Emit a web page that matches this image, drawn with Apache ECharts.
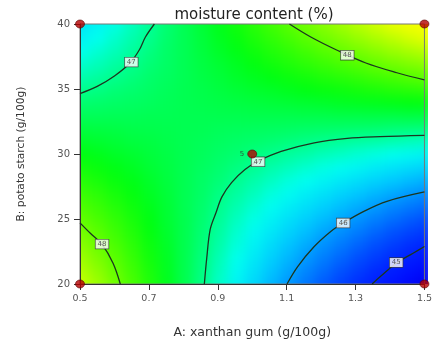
<!DOCTYPE html>
<html>
<head>
<meta charset="utf-8">
<script src="https://cdn.jsdelivr.net/npm/echarts@6.0.0/dist/echarts.min.js"></script>
<style>
  html, body { margin: 0; padding: 0; background: #fff; }
  #wrap { position: relative; width: 435px; height: 347px; }
  #fieldClip { position: absolute; left: 80px; top: 24px; width: 348px; height: 260px; overflow: hidden; }
  #field { position: absolute; left: -80px; top: -24px; width: 435px; height: 347px; filter: blur(6px); }
  #chart { position: absolute; left: 0; top: 0; width: 435px; height: 347px; }
</style>
</head>
<body>
<div id="wrap">
  <div id="fieldClip"><div id="field"></div></div>
  <div id="chart"></div>
</div>
<script>
// A: xanthan gum (g/100g), columns of the surface
var xanthan = [0.5, 0.55, 0.6, 0.65, 0.7, 0.75, 0.8, 0.85, 0.9, 0.95, 1.0,
  1.05, 1.1, 1.15, 1.2, 1.25, 1.3, 1.35, 1.4, 1.45, 1.5];
// B: potato starch (g/100g), rows of the surface
var starch = [20, 21, 22, 23, 24, 25, 26, 27, 28, 29, 30,
  31, 32, 33, 34, 35, 36, 37, 38, 39, 40];
var moisture = [
  [48.50, 48.29, 48.08, 47.87, 47.66, 47.45, 47.24, 47.03, 46.82, 46.61, 46.40, 46.19, 45.98, 45.77, 45.56, 45.35, 45.14, 44.93, 44.72, 44.51, 44.30],
  [48.40, 48.21, 48.01, 47.82, 47.63, 47.43, 47.24, 47.05, 46.85, 46.66, 46.47, 46.27, 46.08, 45.88, 45.69, 45.50, 45.30, 45.11, 44.92, 44.72, 44.53],
  [48.30, 48.12, 47.95, 47.77, 47.59, 47.42, 47.24, 47.06, 46.88, 46.71, 46.53, 46.35, 46.18, 46.00, 45.82, 45.65, 45.47, 45.29, 45.11, 44.94, 44.76],
  [48.20, 48.04, 47.88, 47.72, 47.56, 47.40, 47.24, 47.08, 46.92, 46.76, 46.60, 46.43, 46.27, 46.11, 45.95, 45.79, 45.63, 45.47, 45.31, 45.15, 44.99],
  [48.10, 47.96, 47.81, 47.67, 47.52, 47.38, 47.24, 47.09, 46.95, 46.80, 46.66, 46.52, 46.37, 46.23, 46.08, 45.94, 45.80, 45.65, 45.51, 45.36, 45.22],
  [48.00, 47.87, 47.75, 47.62, 47.49, 47.36, 47.24, 47.11, 46.98, 46.85, 46.73, 46.60, 46.47, 46.34, 46.22, 46.09, 45.96, 45.83, 45.71, 45.58, 45.45],
  [47.90, 47.79, 47.68, 47.57, 47.46, 47.35, 47.23, 47.12, 47.01, 46.90, 46.79, 46.68, 46.57, 46.46, 46.35, 46.24, 46.12, 46.01, 45.90, 45.79, 45.68],
  [47.80, 47.71, 47.61, 47.52, 47.42, 47.33, 47.23, 47.14, 47.04, 46.95, 46.86, 46.76, 46.67, 46.57, 46.48, 46.38, 46.29, 46.19, 46.10, 46.00, 45.91],
  [47.70, 47.62, 47.54, 47.47, 47.39, 47.31, 47.23, 47.15, 47.08, 47.00, 46.92, 46.84, 46.76, 46.69, 46.61, 46.53, 46.45, 46.37, 46.30, 46.22, 46.14],
  [47.60, 47.54, 47.48, 47.42, 47.35, 47.29, 47.23, 47.17, 47.11, 47.05, 46.99, 46.92, 46.86, 46.80, 46.74, 46.68, 46.62, 46.55, 46.49, 46.43, 46.37],
  [47.50, 47.46, 47.41, 47.37, 47.32, 47.28, 47.23, 47.19, 47.14, 47.10, 47.05, 47.01, 46.96, 46.92, 46.87, 46.83, 46.78, 46.74, 46.69, 46.65, 46.60],
  [47.40, 47.37, 47.34, 47.31, 47.29, 47.26, 47.23, 47.20, 47.17, 47.14, 47.12, 47.09, 47.06, 47.03, 47.00, 46.97, 46.94, 46.92, 46.89, 46.86, 46.83],
  [47.30, 47.29, 47.28, 47.26, 47.25, 47.24, 47.23, 47.22, 47.20, 47.19, 47.18, 47.17, 47.16, 47.14, 47.13, 47.12, 47.11, 47.10, 47.08, 47.07, 47.06],
  [47.20, 47.20, 47.21, 47.21, 47.22, 47.22, 47.23, 47.23, 47.24, 47.24, 47.25, 47.25, 47.25, 47.26, 47.26, 47.27, 47.27, 47.28, 47.28, 47.29, 47.29],
  [47.10, 47.12, 47.14, 47.16, 47.18, 47.21, 47.23, 47.25, 47.27, 47.29, 47.31, 47.33, 47.35, 47.37, 47.39, 47.42, 47.44, 47.46, 47.48, 47.50, 47.52],
  [47.00, 47.04, 47.08, 47.11, 47.15, 47.19, 47.23, 47.26, 47.30, 47.34, 47.38, 47.41, 47.45, 47.49, 47.53, 47.56, 47.60, 47.64, 47.68, 47.71, 47.75],
  [46.90, 46.95, 47.01, 47.06, 47.12, 47.17, 47.22, 47.28, 47.33, 47.39, 47.44, 47.49, 47.55, 47.60, 47.66, 47.71, 47.76, 47.82, 47.87, 47.93, 47.98],
  [46.80, 46.87, 46.94, 47.01, 47.08, 47.15, 47.22, 47.29, 47.36, 47.43, 47.51, 47.58, 47.65, 47.72, 47.79, 47.86, 47.93, 48.00, 48.07, 48.14, 48.21],
  [46.70, 46.79, 46.87, 46.96, 47.05, 47.14, 47.22, 47.31, 47.40, 47.48, 47.57, 47.66, 47.74, 47.83, 47.92, 48.01, 48.09, 48.18, 48.27, 48.35, 48.44],
  [46.60, 46.70, 46.81, 46.91, 47.01, 47.12, 47.22, 47.32, 47.43, 47.53, 47.64, 47.74, 47.84, 47.95, 48.05, 48.15, 48.26, 48.36, 48.46, 48.57, 48.67],
  [46.50, 46.62, 46.74, 46.86, 46.98, 47.10, 47.22, 47.34, 47.46, 47.58, 47.70, 47.82, 47.94, 48.06, 48.18, 48.30, 48.42, 48.54, 48.66, 48.78, 48.90]
];

// contour lines, [A, B] points
var contour47Top = [[0.716, 40], [0.69, 39], [0.672, 38], [0.645, 37], [0.60, 36], [0.55, 35.2], [0.5, 34.65]];
var contour48Top = [[1.108, 40], [1.17, 39], [1.245, 38], [1.33, 37], [1.42, 36.25], [1.5, 35.7]];
var contour47Mid = [[0.861, 20], [0.868, 22], [0.878, 24.2], [0.895, 25.5], [0.912, 26.7], [0.94, 27.8],
  [0.979, 28.8], [1.017, 29.45], [1.084, 30.2], [1.18, 30.86], [1.276, 31.2], [1.371, 31.33], [1.5, 31.43]];
var contour48Low = [[0.5, 24.7], [0.53, 23.9], [0.564, 23.05], [0.596, 21.6], [0.617, 20]];
var contour46 = [[1.101, 20], [1.132, 21.34], [1.18, 22.88], [1.228, 24.04], [1.264, 24.69],
  [1.324, 25.59], [1.391, 26.36], [1.5, 27.08]];
var contour45 = [[1.348, 20], [1.372, 20.57], [1.418, 21.6], [1.467, 22.37], [1.5, 22.88]];

// contour label boxes [A, B, text]
var contourLabels = [[0.649, 37.07, '47'], [1.276, 37.6, '48'], [1.017, 29.4, '47'],
  [0.564, 23.07, '48'], [1.264, 24.69, '46'], [1.418, 21.65, '45']];

// design points [A, B, replicates]
var designPoints = [[0.5, 20, 1], [0.5, 40, 1], [1.5, 20, 1], [1.5, 40, 1], [1.0, 30, 5]];

var xTicks = [0.5, 0.7, 0.9, 1.1, 1.3, 1.5];
var yTicks = [20, 25, 30, 35, 40];

var cells = [];
for (var j = 0; j < starch.length; j++) {
  for (var i = 0; i < xanthan.length; i++) {
    cells.push([xanthan[i], starch[j], moisture[j][i]]);
  }
}

var font = 'DejaVu Sans';
var gridBox = { left: 80, right: 7, top: 24, bottom: 63 };

// colour field, drawn on its own layer and softened by the css blur
function renderCell(params, api) {
  var a = api.value(0), b = api.value(1);
  var p0 = api.coord([a - 0.025, b + 0.5]);
  var p1 = api.coord([a + 0.025, b - 0.5]);
  var x0 = p0[0], y0 = p0[1], x1 = p1[0] + 0.8, y1 = p1[1] + 0.8;
  // stretch the border cells so the blur has no white edge
  if (a === xanthan[0]) x0 -= 30;
  if (a === xanthan[xanthan.length - 1]) x1 += 30;
  if (b === starch[0]) y1 += 30;
  if (b === starch[starch.length - 1]) y0 -= 30;
  return { type: 'rect', shape: { x: x0, y: y0, width: x1 - x0, height: y1 - y0 }, style: { fill: api.visual('color') } };
}

var field = echarts.init(document.getElementById('field'));
field.setOption({
  animation: false,
  grid: gridBox,
  xAxis: { type: 'value', min: 0.5, max: 1.5, show: false },
  yAxis: { type: 'value', min: 20, max: 40, show: false },
  visualMap: {
    show: false,
    dimension: 2,
    min: 44.3,
    max: 49.1,
    inRange: {
      color: ['#0000f0', '#0010ff', '#0028ff', '#0050ff', '#0088ff', '#00c8ff', '#00fff0',
        '#00ff70', '#00ff10', '#50ff00', '#a0ff00', '#f0ff00', '#ffff00']
    }
  },
  series: [{
    type: 'custom',
    renderItem: renderCell,
    data: cells,
    clip: false,
    silent: true
  }]
});

function contourSeries(points) {
  return {
    type: 'line',
    data: points,
    smooth: 0.35,
    showSymbol: false,
    silent: true,
    z: 3,
    lineStyle: { color: '#1c361f', width: 1.3 }
  };
}

var chart = echarts.init(document.getElementById('chart'));
chart.setOption({
  animation: false,
  textStyle: { fontFamily: font },
  grid: Object.assign({ show: true, borderColor: '#777', borderWidth: 1 }, gridBox),
  graphic: [{
    type: 'text',
    x: 254, y: 15,
    style: { text: 'moisture content (%)', font: '15px "DejaVu Sans"', fill: '#222', align: 'center', verticalAlign: 'middle' }
  }],
  xAxis: {
    type: 'value',
    min: 0.5,
    max: 1.5,
    name: 'A: xanthan gum (g/100g)',
    nameLocation: 'middle',
    nameGap: 42,
    nameTextStyle: { fontSize: 12.5, color: '#333' },
    axisLine: { show: true, lineStyle: { color: '#333' } },
    axisTick: { show: true, customValues: xTicks, length: 6, lineStyle: { color: '#333' } },
    axisLabel: { customValues: xTicks, color: '#555', fontSize: 9.5, margin: 10, formatter: function (v) { return v.toFixed(1); } },
    splitLine: { show: false }
  },
  yAxis: {
    type: 'value',
    min: 20,
    max: 40,
    name: 'B: potato starch (g/100g)',
    nameLocation: 'middle',
    nameGap: 53,
    nameTextStyle: { fontSize: 10.7, color: '#333' },
    axisLine: { show: true, lineStyle: { color: '#333' } },
    axisTick: { show: true, customValues: yTicks, length: 6, lineStyle: { color: '#333' } },
    axisLabel: { customValues: yTicks, color: '#555', fontSize: 10, margin: 10 },
    splitLine: { show: false }
  },
  series: [
    contourSeries(contour47Top),
    contourSeries(contour48Top),
    contourSeries(contour47Mid),
    contourSeries(contour48Low),
    contourSeries(contour46),
    contourSeries(contour45),
    {
      type: 'scatter',
      data: contourLabels,
      symbolSize: 1,
      itemStyle: { color: 'rgba(0,0,0,0)' },
      silent: true,
      z: 5,
      label: {
        show: true,
        position: 'inside',
        formatter: function (p) { return p.value[2]; },
        fontSize: 7,
        color: '#333',
        backgroundColor: '#fff',
        borderColor: '#333',
        borderWidth: 0.7,
        padding: [1, 2, 0, 2],
        lineHeight: 8
      }
    },
    {
      type: 'scatter',
      data: designPoints,
      symbol: 'circle',
      symbolSize: [9, 8],
      silent: true,
      z: 8,
      clip: false,
      itemStyle: { color: '#b40000', borderColor: '#5a0000', borderWidth: 0.8 },
      label: {
        show: true,
        position: 'left',
        distance: 3,
        fontSize: 7,
        color: '#333',
        formatter: function (p) { return p.value[2] > 1 ? String(p.value[2]) : ''; }
      }
    }
  ]
});
</script>
</body>
</html>
